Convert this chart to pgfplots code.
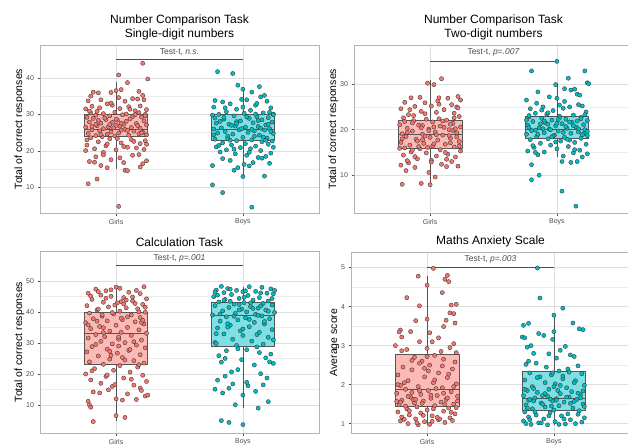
\documentclass[border=0pt]{standalone}
\usepackage{fontspec}
\setmainfont{Liberation Sans}
\usepackage{pgfplots}
\pgfplotsset{compat=1.18}
\usepgfplotslibrary{statistics}

\definecolor{girlred}{HTML}{F8766D}
\definecolor{boycyan}{HTML}{00BFC4}
\definecolor{girlfill}{HTML}{FCBAB6}
\definecolor{boyfill}{HTML}{80DFE2}
\definecolor{boxgrey}{HTML}{555555}
\definecolor{grey30}{HTML}{4D4D4D}
\definecolor{grey70}{HTML}{B3B3B3}
\definecolor{grey87}{HTML}{DEDEDE}
\definecolor{grey93}{HTML}{EDEDED}

\pgfplotsset{
  panel/.style={
    scale only axis,
    width=279pt,
    xmin=0.4, xmax=2.6,
    xtick={1,2}, xticklabels={Girls,Boys},
    minor y tick num=1,
    grid=both,
    major grid style={color=grey87, line width=0.5pt},
    minor grid style={color=grey93, line width=0.35pt},
    axis line style={color=grey70, line width=0.6pt},
    tick align=outside,
    xtick pos=bottom, ytick pos=left,
    major tick length=2.5pt, minor tick length=0pt,
    tick style={color=grey30, line width=0.4pt},
    ticklabel style={font=\fontsize{7}{8}\selectfont, text=grey30},
    /pgf/number format/assume math mode=true,
    ylabel style={font=\fontsize{10.5}{12}\selectfont},
    ylabel shift=-5pt,
    title style={font=\fontsize{12}{14}\selectfont, align=center, yshift=-5pt},
    boxplot/draw direction=y,
    anchor=south west,
  },
  girlbox/.style={draw=boxgrey, fill=girlfill, line width=0.6pt, solid},
  boybox/.style={draw=boxgrey, fill=boyfill, line width=0.6pt, solid},
  girlpts/.style={only marks, mark=*, mark size=2.1pt,
    mark options={draw=black!80, fill=girlred, line width=0.35pt}},
  boypts/.style={only marks, mark=*, mark size=2.1pt,
    mark options={draw=black!80, fill=boycyan, line width=0.35pt}},
  sigbar/.style={color=grey30, line width=0.9pt},
}

\begin{document}
\begin{tikzpicture}
\path[use as bounding box] (0,0) rectangle (628pt,445pt);

% ---------------- top left
\begin{axis}[panel, at={(40pt,232pt)}, height=168pt,
  ymin=3, ymax=49, ytick={10,20,30,40},
  ylabel={Total of correct responses},
  title={Number Comparison Task\\Single-digit numbers}]
\addplot[girlbox, boxplot prepared={median=26, lower quartile=24, upper quartile=30,
  lower whisker=15, upper whisker=39, draw position=1, box extend=0.5, whisker extend=0,
  draw direction=y}]
  coordinates {};
\addplot[boybox, boxplot prepared={median=26, lower quartile=23, upper quartile=30,
  lower whisker=13, upper whisker=37, draw position=2, box extend=0.5, whisker extend=0,
  draw direction=y}]
  coordinates {};
\addplot[girlpts] coordinates {
(1.02,4.8) (0.78,11.0) (0.85,12.3) (1.21,44.0) (1.02,40.8) (1.25,39.7) (1.09,38.7)
(1.00,36.5) (0.82,36.1) (0.86,35.9) (0.96,36.0) (1.04,36.8) (1.21,35.2) (1.17,34.2)
(1.13,34.3) (0.78,33.7) (0.88,34.0) (1.07,33.6) (0.93,32.9) (1.22,34.0) (0.81,32.2)
(1.19,32.3) (0.97,32.5) (1.10,32.1) (0.87,31.8) (1.03,31.6) (1.24,31.3) (0.76,31.5)
(1.15,31.0) (0.80,30.4) (0.90,30.2) (0.99,30.6) (1.08,30.1) (1.18,30.5) (1.23,30.0)
(0.84,29.8) (0.95,29.6) (1.05,29.9) (1.13,29.4) (0.77,29.2) (1.20,29.3) (0.82,28.9)
(0.92,28.6) (1.01,28.4) (1.11,28.8) (1.22,28.2) (0.79,27.9) (0.88,27.6) (0.97,27.8)
(1.06,27.3) (1.16,27.5) (1.24,27.1) (0.85,26.9) (0.94,26.6) (1.03,26.8) (1.12,26.4)
(1.19,26.2) (0.76,26.5) (0.90,26.1) (1.00,27.0) (1.08,28.1) (0.81,25.8) (0.87,25.5)
(0.96,25.2) (1.04,25.7) (1.14,25.4) (1.21,25.1) (0.78,24.8) (0.93,24.6) (1.02,24.9)
(1.10,24.3) (1.18,24.7) (0.84,24.2) (0.99,24.1) (1.24,24.4) (0.89,23.9) (1.07,25.9)
(0.80,23.6) (0.95,23.3) (1.12,23.1) (1.23,22.8) (0.86,22.5) (1.04,22.2) (1.19,22.0)
(0.77,21.6) (0.92,21.4) (1.09,21.0) (1.24,21.8) (0.83,20.6) (1.00,20.3) (1.16,20.8)
(0.76,20.1) (0.90,19.6) (1.13,18.8) (1.18,19.0) (0.84,18.4) (0.79,17.1) (0.83,16.9)
(0.96,17.6) (1.06,16.8) (1.21,16.5) (0.88,16.0) (0.93,15.4) (1.07,14.7) (1.09,14.6)
(1.19,15.6)
(0.79,30.9) (0.91,29.0) (1.00,28.7) (1.15,29.9) (1.23,29.6) (0.86,28.4) (0.95,27.2)
(1.04,27.6) (1.17,26.9) (0.81,26.7) (0.98,26.3) (1.09,25.6) (1.20,24.9) (0.88,24.5)
(1.01,23.4) (1.14,22.6) (0.77,23.0) (0.93,21.9) (1.06,21.2) (1.22,20.4) (0.85,30.8)
(1.11,31.4) (0.96,33.1) (1.02,34.6) (0.80,35.0) (1.18,36.3) (0.90,18.9) (1.03,18.1)
(1.24,17.3) (0.84,27.3)
};
\addplot[boypts] coordinates {
(1.80,41.7) (1.92,41.2) (1.96,38.0) (2.13,37.6) (2.00,36.9) (2.07,36.1) (2.17,35.2)
(2.14,34.8) (1.99,34.1) (2.03,34.0) (1.78,33.8) (1.84,33.4) (2.19,33.6) (1.90,32.9)
(2.10,32.5) (1.77,32.0) (2.22,31.8) (1.95,31.4) (2.06,31.1) (1.87,30.7) (2.16,30.4)
(2.24,30.1) (1.81,30.0) (2.01,30.3) (1.93,29.6) (2.11,29.4) (1.76,29.8) (2.20,29.1)
(1.85,28.7) (2.05,28.9) (1.98,28.2) (2.15,28.5) (2.23,27.9) (1.79,27.6) (1.89,27.3)
(2.08,27.7) (2.18,27.1) (1.94,26.8) (2.02,26.5) (1.83,26.3) (2.12,26.7) (2.21,26.1)
(1.77,26.0) (1.97,25.8) (2.09,25.5) (1.86,25.3) (2.17,25.7) (2.04,25.1) (1.80,24.9)
(1.92,24.6) (2.13,24.3) (2.24,24.8) (1.88,24.0) (2.00,23.7) (2.19,23.5) (1.78,23.2)
(2.07,23.0) (1.95,22.8) (2.15,22.5) (1.84,22.2) (2.23,22.7) (2.02,22.0) (1.91,21.6)
(2.10,21.3) (1.79,21.1) (2.20,21.8) (1.98,20.9) (2.06,20.6) (1.87,20.3) (2.14,20.1)
(1.82,19.7) (2.22,19.4) (1.94,19.2) (2.03,18.8) (2.18,18.5) (2.12,18.2) (1.90,17.4)
(2.08,16.8) (2.21,16.6) (1.76,16.0) (1.96,15.4) (2.05,15.9) (1.93,14.7) (2.17,13.1)
(2.00,13.0) (1.76,10.7) (1.84,8.6) (2.07,4.6) (2.24,29.9) (1.85,29.2) (2.10,30.1)
(1.95,28.0) (2.20,27.3)
(1.82,28.1) (1.91,27.0) (2.03,29.3) (2.14,26.2) (2.22,25.3) (1.77,24.4) (1.88,23.3)
(1.99,26.1) (2.09,24.0) (2.18,22.9) (1.81,21.5) (1.93,20.5) (2.05,19.6) (2.16,23.8)
(2.24,21.0) (1.86,31.8) (2.00,32.0) (2.11,33.0) (1.78,29.0) (1.95,27.5) (2.07,25.9)
(2.21,30.6) (1.84,17.9) (2.01,16.3) (2.15,18.0) (1.90,22.9) (2.12,28.3)
};
\addplot[sigbar] coordinates {(1,45) (2,45)};
\node[font=\fontsize{8.5}{10}\selectfont, text=grey30] at (axis cs:1.5,47.1) {Test-t, \textit{n.s.}};
\end{axis}

% ---------------- top right
\begin{axis}[panel, at={(354pt,232pt)}, height=168pt,
  ymin=1.7, ymax=38.6, ytick={10,20,30},
  ylabel={Total of correct responses},
  title={Number Comparison Task\\Two-digit numbers}]
\addplot[girlbox, boxplot prepared={median=19, lower quartile=16, upper quartile=22,
  lower whisker=8, upper whisker=31, draw position=1, box extend=0.5, whisker extend=0,
  draw direction=y}]
  coordinates {};
\addplot[boybox, boxplot prepared={median=20, lower quartile=18, upper quartile=23,
  lower whisker=13.9, upper whisker=30, draw position=2, box extend=0.5, whisker extend=0,
  draw direction=y}]
  coordinates {};
\addplot[girlpts] coordinates {
(1.09,31.2) (0.98,30.2) (1.03,29.9) (0.92,27.1) (0.85,27.0) (1.22,27.3) (1.24,26.5)
(1.14,26.9) (1.07,27.0) (0.80,26.0) (0.96,25.9) (1.17,25.5) (1.21,25.0) (0.88,25.1)
(1.01,25.2) (0.77,24.6) (1.11,24.4) (0.93,24.0) (1.19,23.6) (0.83,23.3) (1.05,23.8)
(1.23,22.9) (0.79,22.6) (0.97,22.3) (1.13,22.1) (0.87,22.0) (1.02,21.7) (1.18,21.4)
(0.76,21.1) (0.91,21.0) (1.08,20.8) (1.24,20.6) (0.82,20.3) (0.99,20.1) (1.15,20.0)
(0.86,19.7) (1.04,19.5) (1.21,19.3) (0.78,19.1) (0.94,19.0) (1.10,18.8) (0.81,18.5)
(1.00,18.3) (1.16,18.1) (0.89,17.9) (1.06,17.7) (1.23,17.4) (0.77,17.2) (0.95,17.0)
(1.12,16.8) (0.84,16.6) (1.02,16.4) (1.19,16.2) (0.80,16.0) (0.92,15.8) (1.08,15.6)
(1.24,15.3) (0.85,15.1) (0.97,14.9) (1.14,14.6) (0.79,14.4) (1.05,14.2) (1.20,14.0)
(0.90,13.6) (1.01,13.3) (1.17,13.0) (0.83,12.7) (1.09,12.4) (0.77,12.2) (1.22,12.0)
(0.88,11.7) (1.13,11.9) (0.81,11.0) (0.99,10.6) (1.04,9.6) (0.78,8.0) (0.93,8.2)
(1.00,7.9) (0.86,21.5) (1.11,20.5) (0.96,18.6) (1.18,19.8) (0.90,17.5) (1.03,16.9)
(1.16,21.2) (0.82,19.4) (1.07,22.4) (0.94,20.9) (1.21,18.4) (0.98,16.1) (1.12,15.0)
(0.87,23.1)
(0.80,21.8) (0.93,20.4) (1.05,18.9) (1.16,17.1) (1.23,16.4) (0.86,15.5) (0.99,19.8)
(1.10,21.9) (0.78,18.0) (0.91,16.3) (1.03,20.6) (1.19,22.6) (0.84,24.4) (1.07,25.6)
(1.22,24.8) (0.96,23.5) (1.13,13.5) (0.88,14.1) (1.01,12.9) (0.76,15.9) (1.15,18.7)
(0.94,17.8) (1.20,20.2) (0.82,13.2) (1.06,26.3)
};
\addplot[boypts] coordinates {
(2.00,35.0) (1.80,32.9) (2.22,32.9) (2.09,31.3) (2.24,30.3) (2.25,30.1) (1.99,29.9)
(2.06,29.0) (2.11,28.7) (2.14,28.9) (1.85,28.3) (2.16,27.8) (2.18,27.6) (1.94,27.2)
(2.00,26.9) (1.76,26.5) (1.84,25.8) (2.17,25.5) (2.20,25.2) (1.89,25.0) (2.10,25.0)
(1.79,24.6) (1.97,24.2) (2.05,24.7) (2.23,23.9) (1.83,23.6) (1.92,23.4) (2.13,23.2)
(2.02,23.0) (1.78,22.8) (2.19,22.7) (1.88,22.5) (2.07,22.3) (1.96,22.1) (2.24,22.0)
(1.81,21.8) (2.12,21.6) (1.91,21.5) (2.04,21.3) (2.21,21.1) (1.77,21.0) (1.99,20.8)
(2.15,20.6) (1.86,20.4) (2.08,20.3) (1.94,20.1) (2.22,20.0) (1.80,19.8) (2.01,19.7)
(2.17,19.5) (1.90,19.3) (2.11,19.2) (1.76,19.0) (1.98,18.8) (2.24,18.7) (1.84,18.5)
(2.06,18.3) (2.19,18.1) (1.93,18.0) (1.79,17.8) (2.03,17.5) (2.14,17.2) (1.87,17.0)
(2.23,16.8) (1.95,16.6) (2.09,16.3) (1.82,16.1) (2.00,15.8) (2.18,15.5) (1.77,15.3)
(1.90,15.1) (2.13,14.9) (2.24,14.7) (1.85,14.5) (2.05,14.2) (2.20,14.0) (1.80,12.3)
(2.04,13.0) (2.11,12.8) (2.16,13.0) (1.86,10.0) (1.80,9.0) (2.04,6.5) (2.15,3.2)
(1.93,21.2) (2.07,20.7) (1.83,19.9) (2.16,21.9) (1.97,18.6) (2.02,22.6) (1.89,20.2)
(2.21,19.1) (2.10,17.7) (1.78,23.1) (2.00,21.4)
(1.78,20.5) (1.90,21.9) (2.01,22.2) (2.13,20.9) (2.24,19.6) (1.85,19.0) (1.96,18.4)
(2.08,17.9) (2.19,22.4) (1.81,16.5) (1.93,23.7) (2.05,19.4) (2.17,20.2) (1.88,24.3)
(2.02,25.4) (2.14,15.6) (1.76,22.1) (1.99,17.3) (2.10,21.7) (2.22,23.3) (1.83,15.0)
(2.06,26.2) (1.95,20.0) (2.20,18.9) (1.87,21.3)
};
\addplot[sigbar] coordinates {(1,35) (2,35)};
\node[font=\fontsize{8.5}{10}\selectfont, text=grey30] at (axis cs:1.5,37.0) {Test-t, \textit{p=.007}};
\end{axis}

% ---------------- bottom left
\begin{axis}[panel, at={(40pt,12pt)}, height=182pt,
  ymin=1, ymax=59.6, ytick={10,20,30,40,50},
  ylabel={Total of correct responses},
  title={Calculation Task}]
\addplot[girlbox, boxplot prepared={median=33, lower quartile=23, upper quartile=40,
  lower whisker=5, upper whisker=48, draw position=1, box extend=0.5, whisker extend=0,
  draw direction=y}]
  coordinates {};
\addplot[boybox, boxplot prepared={median=39, lower quartile=29, upper quartile=43,
  lower whisker=9, upper whisker=48, draw position=2, box extend=0.5, whisker extend=0,
  draw direction=y}]
  coordinates {};
\addplot[girlpts] coordinates {
(1.00,48.0) (1.22,48.1) (0.84,47.3) (0.92,46.8) (1.03,47.6) (1.16,46.9) (0.78,46.0)
(1.10,46.3) (0.88,45.4) (1.19,45.9) (0.96,45.0) (1.06,44.6) (1.24,44.2) (0.81,44.0)
(1.13,43.5) (0.90,43.1) (1.01,42.9) (1.21,42.4) (0.77,42.0) (0.94,41.6) (1.08,41.3)
(1.17,41.0) (0.85,40.6) (1.03,40.2) (1.23,39.9) (0.79,39.6) (0.98,39.3) (1.12,39.0)
(0.89,38.6) (1.19,38.2) (0.82,37.8) (1.05,37.5) (0.93,37.1) (1.15,36.8) (0.76,36.5)
(1.22,36.1) (1.00,35.7) (0.87,35.3) (1.09,35.0) (0.80,34.6) (1.18,34.2) (0.95,33.8)
(1.04,33.4) (1.24,33.1) (0.84,32.7) (1.12,32.4) (0.91,32.0) (0.78,31.6) (1.02,31.2)
(1.20,30.9) (0.88,30.5) (1.07,30.1) (0.97,29.7) (1.16,29.3) (0.81,28.8) (1.23,28.4)
(0.93,28.0) (1.10,27.6) (0.77,27.1) (1.01,26.7) (1.19,26.2) (0.86,25.8) (1.05,25.3)
(0.95,24.8) (1.14,24.3) (0.79,23.9) (1.22,23.5) (0.90,23.1) (1.03,22.7) (1.17,22.2)
(0.83,21.7) (0.98,21.2) (1.11,20.6) (0.76,20.0) (1.21,19.6) (0.92,19.2) (1.06,18.7)
(0.80,18.1) (1.24,17.6) (0.88,17.0) (1.14,16.4) (0.97,16.0) (1.19,15.5) (0.82,14.2)
(1.09,13.6) (1.23,12.9) (1.00,12.0) (0.78,11.2) (0.79,10.1) (0.80,9.3) (1.05,11.6)
(1.16,11.8) (1.00,6.6) (1.07,6.0) (0.82,4.7) (1.25,13.2) (0.94,14.9) (1.13,44.8)
(0.86,46.5) (1.08,43.8) (0.99,42.2) (1.18,40.0) (0.89,39.1) (1.04,38.0) (0.85,37.0)
(1.20,36.6) (1.11,27.9) (0.96,26.0) (1.02,29.0) (0.90,34.9)
(0.80,45.1) (0.92,44.4) (1.04,43.3) (1.15,42.7) (1.23,41.5) (0.86,40.9) (0.97,39.8)
(1.09,38.4) (1.21,37.3) (0.78,35.8) (0.90,33.3) (1.02,31.9) (1.14,30.4) (0.84,29.5)
(0.95,27.3) (1.07,24.5) (1.18,23.0) (0.81,21.0) (0.93,19.7) (1.12,18.3) (0.99,16.6)
(0.87,13.9) (1.20,14.7) (1.06,42.6) (0.96,47.1)
};
\addplot[boypts] coordinates {
(1.83,48.2) (2.05,48.1) (1.88,47.5) (2.15,47.9) (1.79,47.0) (1.95,46.9) (2.22,47.4)
(2.00,46.5) (2.10,46.6) (1.85,46.2) (2.19,46.0) (1.91,45.6) (2.04,45.3) (2.24,45.8)
(1.77,44.9) (2.13,44.6) (1.97,44.3) (1.86,44.0) (2.08,43.8) (2.20,43.5) (1.81,43.2)
(2.01,43.0) (2.16,42.7) (1.93,42.5) (2.23,42.2) (1.78,42.0) (2.06,41.7) (1.89,41.4)
(2.12,41.2) (1.99,40.9) (2.18,40.6) (1.84,40.3) (2.03,40.0) (2.25,39.8) (1.94,39.5)
(2.10,39.2) (1.76,39.0) (2.15,38.7) (1.87,38.4) (2.02,38.1) (2.21,37.8) (1.96,37.4)
(1.82,37.0) (2.09,36.6) (2.17,36.1) (1.90,35.7) (2.05,35.2) (1.80,34.8) (2.23,34.3)
(1.98,33.9) (2.13,33.4) (1.85,32.9) (2.00,32.4) (2.20,31.8) (1.92,31.2) (2.07,30.6)
(1.78,30.1) (2.16,29.6) (1.95,29.2) (2.11,28.7) (1.87,27.5) (2.03,27.8) (2.22,26.4)
(1.81,25.9) (2.18,25.2) (1.99,24.6) (1.83,23.8) (2.24,23.4) (2.09,22.9) (1.96,21.4)
(2.14,20.1) (1.86,19.3) (2.19,18.7) (1.80,18.0) (1.92,16.8) (2.04,16.2) (1.89,15.4)
(1.78,15.1) (2.10,14.4) (1.84,13.9) (2.00,13.2) (1.94,10.1) (2.20,11.1) (2.12,9.0)
(1.83,5.0) (1.89,4.4) (2.00,3.7) (2.01,44.7) (1.90,43.4) (2.14,41.9) (1.97,40.6)
(2.06,42.9) (1.80,45.4) (2.25,46.9) (1.88,36.2) (2.12,38.9) (1.79,33.0)
(1.78,46.4) (1.90,47.3) (2.02,46.8) (2.14,46.1) (2.23,44.3) (1.85,43.7) (1.97,42.4)
(2.08,41.1) (2.20,40.2) (1.82,39.3) (1.93,38.6) (2.05,37.6) (2.17,36.9) (1.88,35.1)
(2.00,34.5) (2.11,32.7) (2.24,31.0) (1.79,29.8) (1.96,28.1) (2.13,26.9) (1.86,25.0)
(2.21,23.9) (1.91,20.7) (2.03,17.3) (2.16,16.5)
};
\addplot[sigbar] coordinates {(1,55) (2,55)};
\node[font=\fontsize{8.5}{10}\selectfont, text=grey30] at (axis cs:1.5,57.3) {Test-t, \textit{p=.001}};
\end{axis}

% ---------------- bottom right
\begin{axis}[panel, at={(351pt,12pt)}, height=181pt,
  ymin=0.76, ymax=5.4, ytick={1,2,3,4,5},
  ylabel={Average score},
  title={Maths Anxiety Scale}]
\addplot[girlbox, boxplot prepared={median=1.88, lower quartile=1.45, upper quartile=2.79,
  lower whisker=0.97, upper whisker=4.78, draw position=1, box extend=0.5, whisker extend=0,
  draw direction=y}]
  coordinates {};
\addplot[boybox, boxplot prepared={median=1.66, lower quartile=1.33, upper quartile=2.34,
  lower whisker=0.97, upper whisker=3.77, draw position=2, box extend=0.5, whisker extend=0,
  draw direction=y}]
  coordinates {};
\addplot[girlpts] coordinates {
(1.05,4.98) (0.93,4.78) (1.16,4.80) (1.14,4.70) (1.17,4.64) (1.00,4.55) (1.12,4.36)
(0.84,4.23) (0.94,4.02) (1.23,4.06) (1.19,4.04) (1.18,3.84) (1.21,3.82) (1.15,3.65)
(0.91,3.64) (1.00,3.68) (0.79,3.40) (0.78,3.35) (0.87,3.36) (1.02,3.33) (1.22,3.58)
(1.13,3.49) (1.09,3.20) (1.04,3.10) (0.94,3.10) (1.21,3.05) (0.75,3.00) (0.80,2.87)
(0.84,2.90) (1.00,2.93) (1.18,2.95) (1.23,2.82) (0.90,2.70) (1.06,2.75) (0.96,2.60)
(1.13,2.65) (0.81,2.45) (1.02,2.50) (1.20,2.40) (0.88,2.38) (1.09,2.30) (0.77,2.25)
(0.98,2.20) (1.16,2.18) (0.85,2.10) (1.05,2.05) (1.23,2.02) (0.79,1.98) (0.93,1.95)
(1.12,1.92) (0.83,1.88) (1.01,1.85) (1.19,1.82) (0.76,1.78) (0.95,1.75) (1.08,1.72)
(1.24,1.70) (0.87,1.68) (1.03,1.65) (1.15,1.62) (0.80,1.60) (0.97,1.58) (1.11,1.55)
(0.90,1.53) (1.21,1.50) (0.78,1.48) (1.06,1.46) (0.92,1.43) (1.17,1.40) (0.84,1.38)
(1.00,1.35) (1.13,1.32) (0.77,1.30) (0.95,1.27) (1.22,1.25) (0.86,1.22) (1.04,1.20)
(0.80,1.17) (1.18,1.15) (0.91,1.12) (1.09,1.10) (0.79,1.07) (0.98,1.05) (1.14,1.03)
(0.85,1.00) (1.02,0.98) (0.93,0.97) (1.20,1.08) (0.89,1.62) (1.07,1.90) (0.82,2.05)
(1.12,2.48) (0.96,1.52) (1.24,1.58) (0.88,1.80) (1.01,2.35) (0.76,1.57) (1.16,1.66)
(0.94,2.55) (1.10,1.12) (0.83,1.45) (1.05,1.38)
(0.79,1.55) (0.91,1.62) (1.03,1.73) (1.14,1.49) (1.23,1.41) (0.86,1.33) (0.97,1.21)
(1.08,1.16) (1.19,1.29) (0.82,1.11) (0.94,1.85) (1.06,2.12) (1.17,2.27) (0.88,2.62)
(1.00,2.72) (1.11,2.85) (0.77,2.00) (1.21,1.95) (0.92,1.02) (1.04,1.06) (0.85,1.70)
(1.13,1.78) (0.98,2.42) (1.22,2.58) (0.80,3.22)
};
\addplot[boypts] coordinates {
(1.87,4.99) (1.89,4.22) (2.07,3.96) (2.00,3.78) (1.80,3.57) (2.15,3.58) (1.76,3.52)
(2.20,3.43) (2.23,3.41) (1.88,3.31) (1.92,3.26) (2.00,3.36) (1.99,3.16) (1.75,3.22)
(1.77,3.20) (1.82,3.00) (1.79,2.96) (2.09,2.98) (2.05,2.88) (2.13,2.76) (2.16,2.72)
(1.84,2.80) (1.96,2.79) (2.02,2.68) (1.86,2.55) (2.19,2.48) (1.78,2.52) (1.94,2.45)
(2.11,2.40) (2.04,2.35) (1.81,2.30) (2.22,2.28) (1.98,2.25) (1.89,2.20) (2.07,2.15)
(1.77,2.12) (2.17,2.10) (1.93,2.05) (2.01,2.02) (2.24,1.98) (1.83,1.95) (2.10,1.92)
(1.96,1.88) (1.79,1.85) (2.14,1.82) (1.87,1.80) (2.05,1.77) (2.21,1.74) (1.76,1.72)
(1.95,1.70) (2.12,1.68) (1.85,1.66) (2.02,1.64) (2.18,1.62) (1.80,1.60) (1.99,1.58)
(2.08,1.55) (1.90,1.53) (2.23,1.50) (1.78,1.48) (2.04,1.46) (1.93,1.43) (2.15,1.40)
(1.83,1.38) (2.00,1.35) (2.20,1.33) (1.77,1.30) (1.97,1.28) (2.11,1.25) (1.86,1.22)
(2.06,1.20) (1.80,1.17) (2.24,1.15) (1.92,1.12) (2.13,1.10) (1.76,1.07) (2.01,1.05)
(1.88,1.02) (2.17,1.00) (1.82,0.98) (1.95,0.97) (2.09,0.99) (2.22,1.04) (1.78,1.00)
(2.03,1.85) (1.91,1.72) (2.16,1.57) (1.84,1.90) (2.07,2.22) (1.98,1.45) (2.19,1.78)
(1.81,1.62) (2.00,1.95)
(1.79,1.40) (1.91,1.50) (2.02,1.60) (2.13,1.52) (2.24,1.44) (1.85,1.30) (1.96,1.20)
(2.08,1.12) (2.19,1.24) (1.81,1.10) (1.93,1.77) (2.05,1.98) (2.16,2.05) (1.87,2.18)
(1.99,2.30) (2.10,1.68) (1.77,1.88) (2.21,1.66) (1.90,1.02) (2.04,0.98) (1.84,1.58)
(2.12,2.32) (1.97,1.63) (2.23,1.84) (1.80,2.60)
};
\addplot[sigbar] coordinates {(1,5) (2,5)};
\node[font=\fontsize{8.5}{10}\selectfont, text=grey30] at (axis cs:1.5,5.21) {Test-t, \textit{p=.003}};
\end{axis}
\end{tikzpicture}
\end{document}
